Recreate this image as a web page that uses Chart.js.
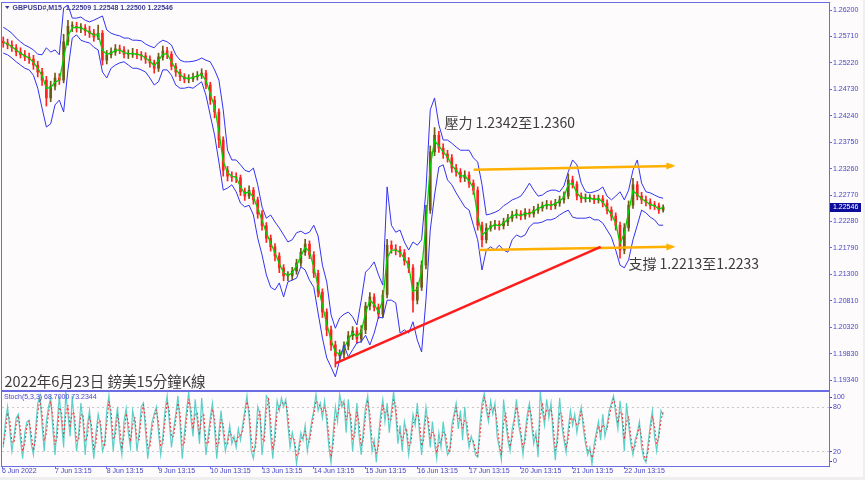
<!DOCTYPE html>
<html>
<head>
<meta charset="utf-8">
<script src="https://cdn.jsdelivr.net/npm/chart.js@4.4.1/dist/chart.umd.min.js"></script>
<style>
  html, body { margin: 0; padding: 0; background: #efefef; }
  #wrap { position: relative; width: 865px; height: 480px; overflow: hidden; }
  #price { position: absolute; left: 0; top: 0; }
  #stoch { position: absolute; left: 0; top: 391px; }
</style>
</head>
<body>
<div id="wrap">
  <canvas id="price" width="865" height="391"></canvas>
  <canvas id="stoch" width="865" height="89"></canvas>
</div>
<script>
// GBPUSD M15, sampled every 2 trading hours; hour 0 = 7 Jun 13:15
const firstHour = -24;
const hourStep = 2;

const opens = [1.2562, 1.2559, 1.2555, 1.2550, 1.2542, 1.2537, 1.2533, 1.2529, 1.2518, 1.2505,
  1.2490, 1.2457, 1.2479, 1.2494, 1.2490, 1.2561, 1.2590, 1.2590, 1.2587, 1.2587,
  1.2581, 1.2577, 1.2570, 1.2577, 1.2527, 1.2537, 1.2542, 1.2548, 1.2546, 1.2538,
  1.2538, 1.2540, 1.2537, 1.2535, 1.2529, 1.2522, 1.2512, 1.2533, 1.2544, 1.2538,
  1.2516, 1.2505, 1.2496, 1.2492, 1.2492, 1.2496, 1.2499, 1.2503, 1.2481, 1.2453,
  1.2431, 1.2379, 1.2323, 1.2312, 1.2310, 1.2309, 1.2283, 1.2275, 1.2286, 1.2268,
  1.2242, 1.2220, 1.2197, 1.2181, 1.2164, 1.2142, 1.2127, 1.2127, 1.2136, 1.2151,
  1.2171, 1.2186, 1.2166, 1.2132, 1.2097, 1.2060, 1.2027, 1.1999, 1.1979, 1.1982,
  1.1997, 1.2016, 1.2025, 1.2010, 1.2027, 1.2071, 1.2088, 1.2069, 1.2056, 1.2092,
  1.2184, 1.2177, 1.2175, 1.2170, 1.2155, 1.2142, 1.2082, 1.2106, 1.2147, 1.2249,
  1.2357, 1.2388, 1.2364, 1.2353, 1.2346, 1.2327, 1.2320, 1.2309, 1.2314, 1.2299,
  1.2286, 1.2221, 1.2194, 1.2216, 1.2220, 1.2223, 1.2220, 1.2227, 1.2234, 1.2240,
  1.2242, 1.2238, 1.2245, 1.2242, 1.2249, 1.2253, 1.2257, 1.2260, 1.2257, 1.2262,
  1.2268, 1.2275, 1.2305, 1.2297, 1.2275, 1.2270, 1.2271, 1.2271, 1.2268, 1.2270,
  1.2262, 1.2249, 1.2238, 1.2221, 1.2175, 1.2216, 1.2258, 1.2296, 1.2275, 1.2268,
  1.2264, 1.2258, 1.2257, 1.2249];
const highs = [1.2570, 1.2566, 1.2563, 1.2556, 1.2550, 1.2545, 1.2540, 1.2536, 1.2525, 1.2512,
  1.2497, 1.2488, 1.2503, 1.2502, 1.2575, 1.2601, 1.2598, 1.2597, 1.2595, 1.2593,
  1.2590, 1.2584, 1.2592, 1.2582, 1.2545, 1.2550, 1.2556, 1.2555, 1.2552, 1.2546,
  1.2549, 1.2547, 1.2543, 1.2541, 1.2535, 1.2527, 1.2540, 1.2553, 1.2551, 1.2543,
  1.2521, 1.2510, 1.2502, 1.2500, 1.2503, 1.2506, 1.2511, 1.2508, 1.2486, 1.2460,
  1.2437, 1.2385, 1.2330, 1.2320, 1.2318, 1.2314, 1.2290, 1.2294, 1.2291, 1.2273,
  1.2248, 1.2226, 1.2203, 1.2187, 1.2170, 1.2148, 1.2135, 1.2143, 1.2158, 1.2178,
  1.2195, 1.2192, 1.2172, 1.2138, 1.2103, 1.2066, 1.2034, 1.2006, 1.1990, 1.2005,
  1.2024, 1.2033, 1.2031, 1.2035, 1.2078, 1.2096, 1.2094, 1.2075, 1.2100, 1.2195,
  1.2192, 1.2185, 1.2182, 1.2176, 1.2161, 1.2148, 1.2115, 1.2155, 1.2258, 1.2368,
  1.2402, 1.2395, 1.2372, 1.2360, 1.2352, 1.2334, 1.2326, 1.2322, 1.2320, 1.2305,
  1.2292, 1.2227, 1.2224, 1.2228, 1.2230, 1.2229, 1.2234, 1.2241, 1.2247, 1.2250,
  1.2248, 1.2252, 1.2251, 1.2256, 1.2260, 1.2264, 1.2267, 1.2266, 1.2269, 1.2275,
  1.2283, 1.2316, 1.2312, 1.2302, 1.2281, 1.2279, 1.2278, 1.2277, 1.2277, 1.2276,
  1.2268, 1.2255, 1.2244, 1.2227, 1.2224, 1.2266, 1.2308, 1.2302, 1.2282, 1.2275,
  1.2270, 1.2265, 1.2262, 1.2259];
const lows = [1.2551, 1.2548, 1.2543, 1.2535, 1.2531, 1.2526, 1.2521, 1.2510, 1.2496, 1.2480,
  1.2442, 1.2450, 1.2472, 1.2482, 1.2485, 1.2555, 1.2580, 1.2579, 1.2578, 1.2573,
  1.2569, 1.2562, 1.2565, 1.2518, 1.2520, 1.2531, 1.2536, 1.2539, 1.2531, 1.2530,
  1.2532, 1.2530, 1.2527, 1.2521, 1.2514, 1.2503, 1.2506, 1.2527, 1.2530, 1.2509,
  1.2497, 1.2489, 1.2485, 1.2485, 1.2487, 1.2490, 1.2493, 1.2474, 1.2445, 1.2420,
  1.2365, 1.2312, 1.2303, 1.2302, 1.2300, 1.2276, 1.2267, 1.2270, 1.2260, 1.2234,
  1.2212, 1.2189, 1.2173, 1.2155, 1.2133, 1.2118, 1.2118, 1.2120, 1.2130, 1.2145,
  1.2165, 1.2159, 1.2124, 1.2088, 1.2050, 1.2016, 1.1989, 1.1958, 1.1972, 1.1975,
  1.1990, 1.2009, 1.2002, 1.2004, 1.2020, 1.2064, 1.2062, 1.2048, 1.2050, 1.2086,
  1.2169, 1.2166, 1.2162, 1.2147, 1.2133, 1.2060, 1.2075, 1.2100, 1.2140, 1.2243,
  1.2350, 1.2356, 1.2345, 1.2338, 1.2319, 1.2312, 1.2301, 1.2302, 1.2291, 1.2278,
  1.2212, 1.2181, 1.2188, 1.2210, 1.2213, 1.2212, 1.2214, 1.2220, 1.2228, 1.2234,
  1.2231, 1.2232, 1.2236, 1.2236, 1.2243, 1.2247, 1.2251, 1.2250, 1.2251, 1.2256,
  1.2262, 1.2270, 1.2290, 1.2268, 1.2263, 1.2264, 1.2264, 1.2261, 1.2262, 1.2255,
  1.2242, 1.2230, 1.2212, 1.2160, 1.2168, 1.2210, 1.2252, 1.2268, 1.2261, 1.2257,
  1.2251, 1.2250, 1.2243, 1.2245];
const closes = [1.2559, 1.2555, 1.2550, 1.2542, 1.2537, 1.2533, 1.2529, 1.2518, 1.2505, 1.2490,
  1.2457, 1.2479, 1.2494, 1.2490, 1.2561, 1.2590, 1.2590, 1.2587, 1.2587, 1.2581,
  1.2577, 1.2570, 1.2577, 1.2527, 1.2537, 1.2542, 1.2548, 1.2546, 1.2538, 1.2538,
  1.2540, 1.2537, 1.2535, 1.2529, 1.2522, 1.2512, 1.2533, 1.2544, 1.2538, 1.2516,
  1.2505, 1.2496, 1.2492, 1.2492, 1.2496, 1.2499, 1.2503, 1.2481, 1.2453, 1.2431,
  1.2379, 1.2323, 1.2312, 1.2310, 1.2309, 1.2283, 1.2275, 1.2286, 1.2268, 1.2242,
  1.2220, 1.2197, 1.2181, 1.2164, 1.2142, 1.2127, 1.2127, 1.2136, 1.2151, 1.2171,
  1.2186, 1.2166, 1.2132, 1.2097, 1.2060, 1.2027, 1.1999, 1.1979, 1.1982, 1.1997,
  1.2016, 1.2025, 1.2010, 1.2027, 1.2071, 1.2088, 1.2069, 1.2056, 1.2092, 1.2184,
  1.2177, 1.2175, 1.2170, 1.2155, 1.2142, 1.2082, 1.2106, 1.2147, 1.2249, 1.2357,
  1.2388, 1.2364, 1.2353, 1.2346, 1.2327, 1.2320, 1.2309, 1.2314, 1.2299, 1.2286,
  1.2221, 1.2194, 1.2216, 1.2220, 1.2223, 1.2220, 1.2227, 1.2234, 1.2240, 1.2242,
  1.2238, 1.2245, 1.2242, 1.2249, 1.2253, 1.2257, 1.2260, 1.2257, 1.2262, 1.2268,
  1.2275, 1.2305, 1.2297, 1.2275, 1.2270, 1.2271, 1.2271, 1.2268, 1.2270, 1.2262,
  1.2249, 1.2238, 1.2221, 1.2175, 1.2216, 1.2258, 1.2296, 1.2275, 1.2268, 1.2264,
  1.2258, 1.2257, 1.2249, 1.22546];

const maLine = [1.2560, 1.2557, 1.2552, 1.2546, 1.2540, 1.2535, 1.2531, 1.2523, 1.2512, 1.2498,
  1.2475, 1.2476, 1.2486, 1.2490, 1.2530, 1.2572, 1.2587, 1.2588, 1.2587, 1.2583,
  1.2579, 1.2573, 1.2575, 1.2545, 1.2538, 1.2540, 1.2545, 1.2546, 1.2541, 1.2539,
  1.2539, 1.2538, 1.2536, 1.2531, 1.2525, 1.2517, 1.2526, 1.2538, 1.2539, 1.2524,
  1.2510, 1.2500, 1.2494, 1.2493, 1.2495, 1.2498, 1.2501, 1.2489, 1.2465, 1.2440,
  1.2395, 1.2340, 1.2318, 1.2312, 1.2310, 1.2292, 1.2280, 1.2283, 1.2273, 1.2252,
  1.2230, 1.2207, 1.2188, 1.2170, 1.2150, 1.2133, 1.2128, 1.2133, 1.2146, 1.2164,
  1.2180, 1.2172, 1.2143, 1.2108, 1.2072, 1.2038, 1.2008, 1.1986, 1.1982, 1.1992,
  1.2010, 1.2021, 1.2015, 1.2023, 1.2058, 1.2082, 1.2074, 1.2060, 1.2082, 1.2160,
  1.2175, 1.2175, 1.2171, 1.2159, 1.2146, 1.2098, 1.2102, 1.2136, 1.2222, 1.2330,
  1.2378, 1.2368, 1.2357, 1.2348, 1.2332, 1.2323, 1.2312, 1.2313, 1.2303, 1.2290,
  1.2238, 1.2203, 1.2210, 1.2218, 1.2222, 1.2220, 1.2225, 1.2232, 1.2238, 1.2241,
  1.2239, 1.2243, 1.2242, 1.2247, 1.2252, 1.2256, 1.2259, 1.2258, 1.2261, 1.2266,
  1.2273, 1.2297, 1.2298, 1.2281, 1.2272, 1.2271, 1.2271, 1.2269, 1.2270, 1.2264,
  1.2252, 1.2241, 1.2225, 1.2187, 1.2206, 1.2246, 1.2285, 1.2278, 1.2270, 1.2265,
  1.2259, 1.2257, 1.2251, 1.2254];
const bandUpper = [1.2588, 1.2583, 1.2577, 1.2568, 1.2561, 1.2555, 1.2551, 1.2546, 1.2538, 1.2537,
  1.2550, 1.2542, 1.2546, 1.2537, 1.2624, 1.2629, 1.2605, 1.2605, 1.2607, 1.2601,
  1.2598, 1.2601, 1.2605, 1.2609, 1.2583, 1.2577, 1.2574, 1.2572, 1.2568, 1.2568,
  1.2564, 1.2564, 1.2563, 1.2557, 1.2553, 1.2550, 1.2559, 1.2564, 1.2561, 1.2555,
  1.2537, 1.2527, 1.2524, 1.2524, 1.2525, 1.2527, 1.2531, 1.2527, 1.2524, 1.2509,
  1.2490, 1.2435, 1.2360, 1.2342, 1.2342, 1.2333, 1.2323, 1.2320, 1.2327, 1.2296,
  1.2255, 1.2234, 1.2240, 1.2227, 1.2216, 1.2203, 1.2190, 1.2194, 1.2207, 1.2210,
  1.2205, 1.2208, 1.2221, 1.2201, 1.2147, 1.2116, 1.2055, 1.2030, 1.2049, 1.2056,
  1.2060, 1.2051, 1.2036, 1.2082, 1.2134, 1.2142, 1.2153, 1.2129, 1.2110, 1.2292,
  1.2221, 1.2208, 1.2212, 1.2190, 1.2175, 1.2190, 1.2184, 1.2194, 1.2286, 1.2435,
  1.2457, 1.2407, 1.2379, 1.2379, 1.2373, 1.2366, 1.2360, 1.2360, 1.2360, 1.2346,
  1.2338, 1.2296, 1.2240, 1.2242, 1.2245, 1.2249, 1.2257, 1.2262, 1.2268, 1.2271,
  1.2275, 1.2286, 1.2299, 1.2286, 1.2275, 1.2277, 1.2283, 1.2286, 1.2286, 1.2283,
  1.2294, 1.2320, 1.2342, 1.2333, 1.2299, 1.2283, 1.2281, 1.2283, 1.2286, 1.2292,
  1.2275, 1.2268, 1.2275, 1.2283, 1.2268, 1.2286, 1.2323, 1.2342, 1.2299, 1.2283,
  1.2281, 1.2277, 1.2273, 1.2271];
const bandLower = [1.2540, 1.2537, 1.2531, 1.2524, 1.2518, 1.2512, 1.2509, 1.2499, 1.2475, 1.2438,
  1.2403, 1.2409, 1.2444, 1.2453, 1.2431, 1.2509, 1.2568, 1.2574, 1.2564, 1.2561,
  1.2559, 1.2551, 1.2546, 1.2505, 1.2494, 1.2512, 1.2518, 1.2522, 1.2524, 1.2518,
  1.2512, 1.2512, 1.2509, 1.2505, 1.2494, 1.2481, 1.2487, 1.2509, 1.2509, 1.2499,
  1.2481, 1.2475, 1.2475, 1.2477, 1.2475, 1.2481, 1.2487, 1.2462, 1.2425, 1.2388,
  1.2338, 1.2286, 1.2290, 1.2296, 1.2283, 1.2262, 1.2255, 1.2258, 1.2240, 1.2197,
  1.2166, 1.2129, 1.2106, 1.2101, 1.2114, 1.2088, 1.2116, 1.2119, 1.2123, 1.2144,
  1.2138, 1.2119, 1.2106, 1.2058, 1.2012, 1.1975, 1.1958, 1.1940, 1.1971, 1.1999,
  1.1977, 1.1990, 1.2003, 1.2005, 1.2017, 1.1999, 1.2021, 1.2051, 1.2049, 1.2082,
  1.2082, 1.2077, 1.2021, 1.2027, 1.2021, 1.2042, 1.2008, 1.1986, 1.2082, 1.2212,
  1.2277, 1.2329, 1.2333, 1.2305, 1.2296, 1.2281, 1.2268, 1.2255, 1.2249, 1.2221,
  1.2194, 1.2138, 1.2175, 1.2181, 1.2175, 1.2184, 1.2175, 1.2171, 1.2194, 1.2203,
  1.2199, 1.2203, 1.2218, 1.2225, 1.2225, 1.2227, 1.2231, 1.2231, 1.2234, 1.2240,
  1.2245, 1.2249, 1.2236, 1.2234, 1.2234, 1.2234, 1.2236, 1.2231, 1.2231, 1.2225,
  1.2212, 1.2199, 1.2175, 1.2147, 1.2142, 1.2157, 1.2194, 1.2221, 1.2249, 1.2244,
  1.2236, 1.2231, 1.2221, 1.2221];

// Stoch(5,3,3), one value per trading hour
const stochMain = [25,60,80,50,20,40,65,70,35,10,
  45,60,62,30,15,50,85,95,55,20, 60,80,92,50,15,55,95,60,25,100,
  70,40,95,55,20,45,85,60,15,55, 75,40,10,45,70,55,20,30,75,95,
  60,20,55,80,35,15,60,78,45,25, 75,60,20,45,80,85,45,10,35,60,
  70,80,45,15,40,75,95,60,25,50, 70,95,55,10,45,75,100,65,40,90,
  60,30,92,55,15,40,65,85,50,10, 45,75,45,20,35,55,30,40,25,50,
  35,55,75,95,65,20,10,35,80,70, 15,45,95,90,40,10,50,88,75,92,
  80,90,55,25,45,30,3,25,45,35, 55,20,40,60,75,97,75,85,65,88,
  60,25,4,45,80,60,97,80,88,45, 90,60,20,55,85,40,15,50,80,95,
  55,20,35,5,40,70,90,60,85,45, 75,100,70,30,55,20,60,45,15,40,
  70,55,85,45,15,50,80,55,25,60, 30,10,45,25,60,35,15,20,55,70,
  85,50,75,35,80,45,25,40,30,15, 12,55,85,98,75,60,88,70,85,40,
  25,8,90,60,35,20,50,65,90,55, 40,15,45,70,85,55,30,45,12,100,
  75,55,90,65,85,40,8,45,92,55, 35,18,50,75,55,70,45,65,80,50,
  30,15,25,2,30,45,60,35,70,40, 55,75,85,95,70,50,88,60,20,85,
  55,30,15,35,45,60,25,10,5,30, 55,75,40,20,45,75,68.7];
const stochSignal = [30,46,72,62,32,32,55,68,49,20,
  31,54,61,43,21,36,71,91,71,34, 44,72,87,67,29,39,79,74,39,70,
  82,52,73,71,34,35,69,70,33,39, 67,54,22,31,60,61,34,26,57,87,
  74,36,41,70,53,23,42,71,58,33, 55,66,36,35,66,83,61,24,25,50,
  66,76,59,27,30,61,87,74,39,40, 62,85,71,28,31,63,90,79,50,70,
  72,42,67,70,31,30,55,77,64,26, 31,63,57,30,29,47,40,36,31,40,
  41,47,67,87,77,38,18,25,62,74, 37,33,75,92,60,22,34,73,80,85,
  85,86,69,37,37,36,14,16,37,39, 47,34,32,52,69,88,84,81,73,79,
  71,39,12,29,66,68,82,87,85,62, 72,72,36,41,73,58,27,36,68,89,
  71,34,29,17,26,58,82,72,75,61, 63,90,82,46,45,34,44,51,27,30,
  58,61,73,61,27,36,68,65,37,46, 42,18,31,33,46,45,25,18,41,64,
  79,64,65,51,62,59,33,34,34,21, 13,38,73,93,84,66,77,77,79,58,
  31,15,57,72,45,26,38,59,80,69, 46,25,33,60,79,67,40,39,25,65,
  85,63,76,75,77,58,21,30,73,70, 43,25,37,65,63,64,55,57,74,62,
  38,21,21,11,19,39,54,45,56,52, 49,67,81,91,80,58,73,71,36,59,
  67,40,21,27,41,54,39,16,7,20, 45,67,54,30,38,62,73.2344];

const priceTicks = [1.262, 1.2571, 1.2522, 1.2473, 1.2424, 1.2375, 1.2326, 1.2277,
  1.2228, 1.2179, 1.2130, 1.2081, 1.2032, 1.1983, 1.1934];
const stochLevels = [100, 80, 20, 0];
const dayTicks = [-24.58, 0, 24, 48, 72, 96, 120, 144, 168, 192, 216, 240, 264];
const dayLabels = ['6 Jun 2022', '7 Jun 13:15', '8 Jun 13:15', '9 Jun 13:15', '10 Jun 13:15',
  '13 Jun 13:15', '14 Jun 13:15', '15 Jun 13:15', '16 Jun 13:15', '17 Jun 13:15',
  '20 Jun 13:15', '21 Jun 13:15', '22 Jun 13:15'];

const lastPrice = 1.22546;
const resistanceArrow = [[194.1, 1.2324], [286.3, 1.2331]];
const supportArrow = [[196.8, 1.2175], [286.3, 1.2181]];
const trendLine = [[130, 1.1965], [253, 1.2181]];
const resistanceNote = { text: '壓力 1.2342至1.2360', at: [180.6, 1.2412] };
const supportNote = { text: '支撐 1.2213至1.2233', at: [265.9, 1.2149] };
const chartTitle = '2022年6月23日 鎊美15分鐘K線';
const symbolLine = 'GBPUSD#,M15  1.22509 1.22548 1.22500 1.22546';
const stochLine = 'Stoch(5,3,3) 68.7000 73.2344';

const xMin = -24.58, xMax = 358.9;
const BG = '#fdfbfb';
const FRAME = '#6b6be3';
const AXIS_TEXT = '#4646c6';
const SMALL_FONT = '"Liberation Sans", Arial, sans-serif';
const CJK_FONT = '"Noto Sans CJK TC", "Noto Sans CJK SC", sans-serif';
const BULL = '#6e5a12';
const BEAR = '#ff2222';

const candleTimes = closes.map((_, i) => firstHour + i * hourStep);
const stochTimes = stochMain.map((_, i) => firstHour + i);
const pts = (times, vals) => vals.map((v, i) => ({ x: times[i], y: v }));
const pairPts = pairs => pairs.map(p => ({ x: p[0], y: p[1] }));
const candleColors = closes.map((c, i) => (c >= opens[i] ? BULL : BEAR));

function lineSet(data, color, width, order, dash) {
  return { type: 'line', data, borderColor: color, borderWidth: width, borderDash: dash || [],
    pointRadius: 0, tension: 0, fill: false, order };
}

function arrowHead(ctx, scales, pairs, color) {
  const a = pairs[pairs.length - 2], b = pairs[pairs.length - 1];
  const x1 = scales.x.getPixelForValue(a[0]), y1 = scales.y.getPixelForValue(a[1]);
  const x2 = scales.x.getPixelForValue(b[0]), y2 = scales.y.getPixelForValue(b[1]);
  const ang = Math.atan2(y2 - y1, x2 - x1);
  ctx.save();
  ctx.translate(x2, y2);
  ctx.rotate(ang);
  ctx.fillStyle = color;
  ctx.beginPath();
  ctx.moveTo(3, 0);
  ctx.lineTo(-6, -3.5);
  ctx.lineTo(-6, 3.5);
  ctx.closePath();
  ctx.fill();
  ctx.restore();
}

const priceDecor = {
  id: 'priceDecor',
  beforeDraw(chart) {
    const c = chart.ctx;
    c.save();
    c.fillStyle = BG;
    c.fillRect(0, 0, 863, chart.height);
    c.restore();
  },
  afterDraw(chart) {
    const c = chart.ctx, a = chart.chartArea, s = chart.scales;
    c.save();
    c.strokeStyle = FRAME;
    c.lineWidth = 1;
    c.strokeRect(1.5, a.top - 0.5, a.right - 1, a.bottom - a.top + 1);

    arrowHead(c, s, resistanceArrow, '#ffb000');
    arrowHead(c, s, supportArrow, '#ffb000');

    // last price marker on the axis
    const py = Math.round(s.y.getPixelForValue(lastPrice));
    c.fillStyle = '#0c0c9c';
    c.fillRect(a.right + 1, py - 4, 31, 9);
    c.fillStyle = '#ffffff';
    c.font = '7px ' + SMALL_FONT;
    c.textBaseline = 'middle';
    c.fillText(lastPrice.toFixed(5), a.right + 4, py + 0.5);

    // symbol header
    c.fillStyle = '#3a3a94';
    c.beginPath();
    c.moveTo(5, 6); c.lineTo(9.5, 6); c.lineTo(7.25, 9);
    c.closePath();
    c.fill();
    c.font = 'bold 7px ' + SMALL_FONT;
    c.fillText(symbolLine, 12.5, 8);

    // notes
    c.fillStyle = '#3c3c3c';
    c.font = '14px ' + CJK_FONT;
    [resistanceNote, supportNote].forEach(n => {
      c.fillText(n.text, s.x.getPixelForValue(n.at[0]), s.y.getPixelForValue(n.at[1]));
    });
    c.font = '14.5px ' + CJK_FONT;
    c.fillText(chartTitle, 4.5, a.bottom - 9);
    c.restore();
  }
};

const stochDecor = {
  id: 'stochDecor',
  beforeDraw(chart) {
    const c = chart.ctx;
    c.save();
    c.fillStyle = BG;
    c.fillRect(0, 0, 863, 86);
    c.restore();
  },
  beforeDatasetsDraw(chart) {
    const c = chart.ctx, a = chart.chartArea, y = chart.scales.y;
    c.save();
    c.strokeStyle = '#c9c9c9';
    c.lineWidth = 1;
    c.setLineDash([2, 3]);
    [80, 20].forEach(v => {
      const py = Math.round(y.getPixelForValue(v)) + 0.5;
      c.beginPath(); c.moveTo(a.left, py); c.lineTo(a.right, py); c.stroke();
    });
    c.restore();
  },
  afterDraw(chart) {
    const c = chart.ctx, a = chart.chartArea, y = chart.scales.y;
    c.save();
    c.strokeStyle = FRAME;
    c.lineWidth = 1;
    c.strokeRect(1.5, a.top - 0.5, a.right - 1, a.bottom - a.top + 1);
    c.font = '7px ' + SMALL_FONT;
    c.textBaseline = 'middle';
    c.fillStyle = AXIS_TEXT;
    stochLevels.forEach(v => {
      const py = Math.min(Math.max(y.getPixelForValue(v), a.top + 5), a.bottom - 5);
      c.fillRect(a.right + 1, Math.round(py), 2, 1);
      c.fillText(String(v), a.right + 4, py + 0.5);
    });
    c.fillStyle = '#4848d0';
    c.fillText(stochLine, 4, a.top + 5.5);
    c.restore();
  }
};

new Chart(document.getElementById('price'), {
  type: 'line',
  data: {
    datasets: [
      lineSet(pairPts(trendLine), '#ff1c1c', 2.5, 0),
      lineSet(pairPts(resistanceArrow), '#ffb000', 2.5, 0),
      lineSet(pairPts(supportArrow), '#ffb000', 2.5, 0),
      lineSet(pts(candleTimes, bandUpper), '#3434f2', 1, 1),
      lineSet(pts(candleTimes, bandLower), '#3434f2', 1, 1),
      lineSet(pts(candleTimes, maLine), '#00d400', 1.3, 2),
      { type: 'bar', data: candleTimes.map((t, i) => ({ x: t, y: [opens[i], closes[i]] })),
        backgroundColor: candleColors, barThickness: 2, minBarLength: 1, grouped: false, order: 3 },
      { type: 'bar', data: candleTimes.map((t, i) => ({ x: t, y: [lows[i], highs[i]] })),
        backgroundColor: candleColors, barThickness: 1, grouped: false, order: 4 }
    ]
  },
  options: {
    responsive: false,
    animation: false,
    devicePixelRatio: 1,
    layout: { padding: { left: 2, top: 3, right: 0, bottom: 1 } },
    plugins: { legend: { display: false }, tooltip: { enabled: false } },
    scales: {
      x: { type: 'linear', min: xMin, max: xMax, offset: false, display: false },
      y: {
        position: 'right', min: 1.19155, max: 1.2633,
        afterBuildTicks(s) { s.ticks = priceTicks.map(v => ({ value: v })); },
        afterFit(s) { s.width = 36; s.paddingTop = 0; s.paddingBottom = 0; },
        grid: { drawOnChartArea: false, drawTicks: true, tickLength: 3, color: FRAME },
        border: { display: true, color: FRAME },
        ticks: { autoSkip: false, padding: 1, color: AXIS_TEXT,
          font: { family: SMALL_FONT, size: 7 }, callback: v => v.toFixed(5) }
      }
    }
  },
  plugins: [priceDecor]
});

new Chart(document.getElementById('stoch'), {
  type: 'line',
  data: {
    datasets: [
      lineSet(pts(stochTimes, stochSignal), '#ef3434', 1, 0, [2, 2]),
      lineSet(pts(stochTimes, stochMain), '#5cd0c8', 1.2, 1)
    ]
  },
  options: {
    responsive: false,
    animation: false,
    devicePixelRatio: 1,
    layout: { padding: { left: 2, top: 1, right: 0, bottom: 0 } },
    plugins: { legend: { display: false }, tooltip: { enabled: false } },
    scales: {
      x: {
        type: 'linear', min: xMin, max: xMax, offset: false,
        afterBuildTicks(s) { s.ticks = dayTicks.map(v => ({ value: v })); },
        afterFit(s) { s.height = 14; s.paddingLeft = 0; s.paddingRight = 0; },
        grid: { drawOnChartArea: false, drawTicks: true, tickLength: 3, color: FRAME },
        border: { display: true, color: FRAME },
        ticks: { align: 'start', autoSkip: false, maxRotation: 0, padding: -2, color: AXIS_TEXT,
          font: { family: SMALL_FONT, size: 7 }, callback: (v, i) => dayLabels[i] }
      },
      y: {
        position: 'right', min: 0, max: 100,
        afterFit(s) { s.width = 36; s.paddingTop = 0; s.paddingBottom = 0; },
        ticks: { display: false },
        grid: { display: false },
        border: { display: true, color: FRAME }
      }
    }
  },
  plugins: [stochDecor]
});
</script>
</body>
</html>
